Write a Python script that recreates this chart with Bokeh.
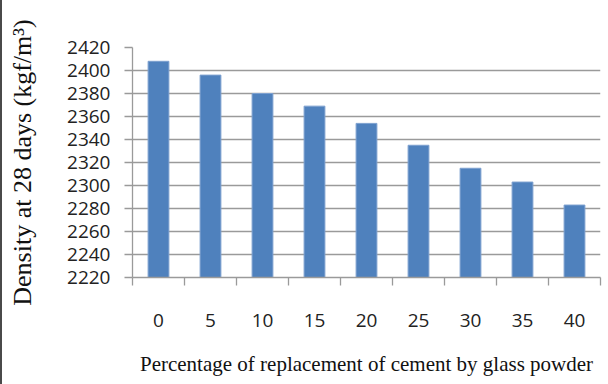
from bokeh.plotting import figure
from bokeh.models import FixedTicker, Range1d, ColumnDataSource
from bokeh.embed import file_html
from bokeh.resources import INLINE

# Glass powder replacement (%) and 28-day density (kgf/m3)
replacement = ["0", "5", "10", "15", "20", "25", "30", "35", "40"]
density = [2408, 2396, 2380, 2369, 2354, 2335, 2315, 2303, 2283]
y_ticks = list(range(2220, 2421, 20))
y_min, y_max = 2220, 2420

n = len(replacement)
centers = [i + 0.5 for i in range(n)]
source = ColumnDataSource(dict(x=centers, top=density, cat=replacement))

p = figure(width=606, height=384, output_backend="svg", toolbar_location=None,
           x_range=Range1d(0, n), y_range=Range1d(y_min, y_max),
           min_border_left=130, min_border_right=8, min_border_top=47,
           min_border_bottom=107)
p.styles = {"border-left": "2px solid #4a4a4a"}
p.background_fill_color = "white"
p.border_fill_color = "white"
p.outline_line_color = None

p.vbar(x="x", top="top", bottom=y_min, width=0.4, source=source,
       fill_color="#4f81bd", line_color="#7da0cf", line_width=1)

grid_color = "#9a9a9a"
p.xgrid.grid_line_color = None
p.ygrid.grid_line_color = grid_color
p.ygrid.grid_line_width = 1.3

# x axis: labels at bar centres, tick marks between categories
p.xaxis.ticker = FixedTicker(ticks=centers, minor_ticks=list(range(n + 1)))
p.xaxis.major_label_overrides = {c: lab for c, lab in zip(centers, replacement)}
p.xaxis.major_tick_out = 0
p.xaxis.major_tick_in = 0
p.xaxis.minor_tick_out = 8
p.xaxis.minor_tick_in = 0
p.xaxis.minor_tick_line_color = grid_color
p.xaxis.minor_tick_line_width = 1.3
p.xaxis.major_label_standoff = 28
p.xaxis.axis_label = "Percentage of replacement of cement by glass powder"
p.xaxis.axis_label_standoff = 22
p.xaxis.axis_label_text_font_size = "21px"

p.yaxis.ticker = FixedTicker(ticks=y_ticks)
p.yaxis.major_tick_out = 8
p.yaxis.major_tick_in = 0
p.yaxis.minor_tick_line_color = None
p.yaxis.major_tick_line_color = grid_color
p.yaxis.major_tick_line_width = 1.3
p.yaxis.major_label_standoff = 14
p.yaxis.axis_label = "Density at 28 days (kgf/m³)"
p.yaxis.axis_label_standoff = 27
p.yaxis.axis_label_text_font_size = "26px"

for ax in (p.xaxis, p.yaxis):
    ax.axis_line_color = grid_color
    ax.axis_line_width = 1.3
    ax.major_label_text_font = "Open Sans"
    ax.major_label_text_font_size = "19px"
    ax.major_label_text_color = "#222222"
    ax.axis_label_text_font = "Liberation Serif"
    ax.axis_label_text_font_style = "normal"
    ax.axis_label_text_color = "#111111"

open("out.html", "w").write(file_html(p, INLINE))
